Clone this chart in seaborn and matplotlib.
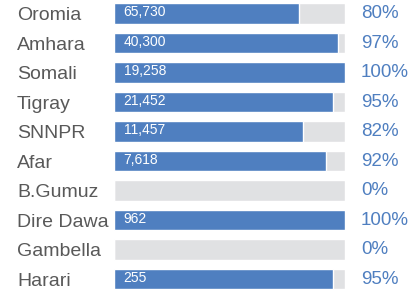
import matplotlib
matplotlib.use("Agg")
import matplotlib.pyplot as plt
import seaborn as sns

regions = ["Oromia", "Amhara", "Somali", "Tigray", "SNNPR", "Afar",
           "B.Gumuz", "Dire Dawa", "Gambella", "Harari"]
counts = [65730, 40300, 19258, 21452, 11457, 7618, None, 962, None, 255]
percent = [80, 97, 100, 95, 82, 92, 0, 100, 0, 95]

blue = "#4f7fc0"
grey = "#e0e1e3"

sns.set_theme(style="white")
plt.rcParams["font.family"] = ["Liberation Sans", "DejaVu Sans"]

fig = plt.figure(figsize=(4.12, 2.92), dpi=100)
ax = fig.add_axes([114.3 / 412, -1.75 / 292, 230.4 / 412, 295 / 292])

sns.barplot(x=[100] * len(regions), y=regions, color=grey, width=0.71,
            orient="h", saturation=1, ax=ax)
sns.barplot(x=percent, y=regions, color=blue, width=0.71,
            orient="h", saturation=1, ax=ax)

ax.set_xlim(0, 100)
ax.set_ylim(9.5, -0.5)
ax.set_xlabel("")
ax.set_ylabel("")
ax.set_xticks([])
for s in ax.spines.values():
    s.set_visible(False)

ax.tick_params(axis="y", length=0, pad=70, labelsize=14, labelcolor="#595959")
for t in ax.get_yticklabels():
    t.set_ha("left")

for i, (c, p) in enumerate(zip(counts, percent)):
    if c is not None:
        ax.text(4, i - 0.05, f"{c:,}", color="white", fontsize=10,
                ha="left", va="center")
    ax.text(107, i, f"{p}%", color=blue, fontsize=13.5,
            ha="left", va="center", clip_on=False)

fig.savefig("out.png", dpi=100)
